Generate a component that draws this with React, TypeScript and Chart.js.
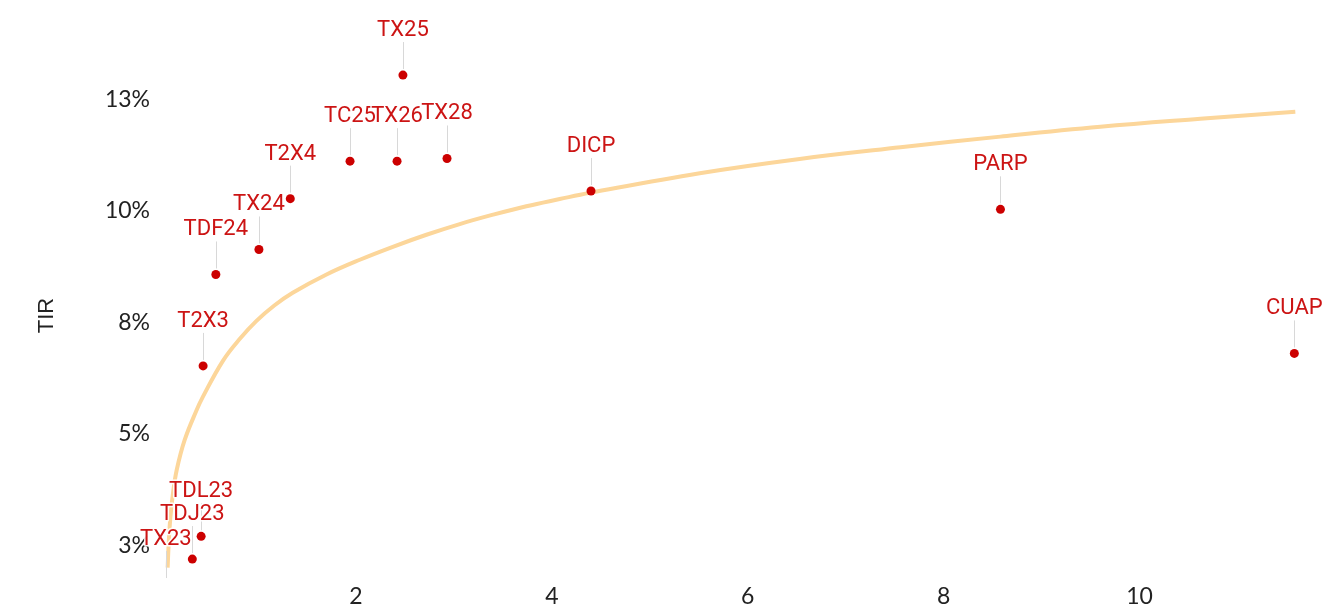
import React, { useEffect, useRef } from "react";
import { Chart, registerables } from "chart.js";

Chart.register(...registerables);

// Bond names, duration (x) and TIR (%)
const bondNames = ["TX25", "TC25", "TX26", "TX28", "T2X4", "TX24", "TDF24", "T2X3", "DICP", "PARP", "CUAP", "TDL23", "TDJ23", "TX23"];
const bondDuration = [2.48, 1.94, 2.42, 2.93, 1.33, 1.01, 0.57, 0.44, 4.40, 8.58, 11.58, 0.42, 0.33, 0.06];
const bondTir = [13.04, 11.11, 11.11, 11.17, 10.27, 9.13, 8.57, 6.52, 10.44, 10.03, 6.80, 2.70, 2.19, 1.63];

// Fitted curve, points
const curveX = [0.078, 0.089, 0.105, 0.13, 0.17, 0.252, 0.372, 0.436, 0.644, 0.82, 0.985, 1.17, 1.355, 1.70, 2.04, 2.377, 2.72, 3.06, 3.40, 3.74, 4.08, 4.39, 5.51, 6.53, 7.56, 8.58, 9.60, 10.62, 11.59];
const curveY = [2.00, 2.55, 3.10, 3.62, 4.18, 4.86, 5.52, 5.82, 6.64, 7.14, 7.53, 7.88, 8.16, 8.57, 8.90, 9.19, 9.46, 9.70, 9.91, 10.10, 10.26, 10.40, 10.84, 11.16, 11.42, 11.66, 11.88, 12.06, 12.22];

// Axis ticks
const xTicks = [2, 4, 6, 8, 10];
const yTicks = [2.5, 5, 7.5, 10, 12.5];

const LABEL_COLOR = "#cc1414";

const pointLabelPlugin = {
  id: "pointLabelPlugin",
  afterDatasetsDraw(chart: any) {
    const meta = chart.getDatasetMeta(0);
    const ctx = chart.ctx;
    ctx.save();
    meta.data.forEach((el: any, i: number) => {
      const { x, y } = el.getProps(["x", "y"], true);
      const base = y - 39;
      const lx = Math.round(x) + 0.5;
      ctx.strokeStyle = "#d8d8d8";
      ctx.lineWidth = 1;
      ctx.beginPath();
      ctx.moveTo(lx, base + 6);
      ctx.lineTo(lx, y - 6);
      ctx.stroke();
      ctx.font = "22px Roboto, 'Liberation Sans', sans-serif";
      ctx.textAlign = "center";
      ctx.textBaseline = "alphabetic";
      ctx.lineWidth = 3;
      ctx.lineJoin = "round";
      ctx.strokeStyle = "rgba(255,255,255,0.9)";
      ctx.strokeText(bondNames[i], x, base);
      ctx.fillStyle = LABEL_COLOR;
      ctx.fillText(bondNames[i], x, base);
    });
    ctx.restore();
  },
};

export default function App() {
  const canvasRef = useRef<HTMLCanvasElement | null>(null);

  useEffect(() => {
    if (!canvasRef.current) return;
    const chart = new Chart(canvasRef.current, {
      type: "scatter",
      data: {
        datasets: [
          {
            label: "Bonos",
            data: bondDuration.map((d, i) => ({ x: d, y: bondTir[i] })),
            backgroundColor: "#cc0000",
            borderWidth: 0,
            pointRadius: 4.5,
            pointHoverRadius: 4.5,
            clip: 0,
            order: 0,
          },
          {
            label: "Curva",
            type: "line",
            data: curveX.map((d, i) => ({ x: d, y: curveY[i] })),
            borderColor: "#fcd69a",
            borderWidth: 4,
            pointRadius: 0,
            fill: false,
            showLine: true,
            tension: 0.4,
            clip: 0,
            order: 1,
          } as any,
        ],
      },
      options: {
        responsive: false,
        animation: false,
        events: [],
        layout: { padding: { top: 59, right: 16, left: 0, bottom: 0 } },
        plugins: {
          legend: { display: false },
          tooltip: { enabled: false },
        },
        scales: {
          x: {
            type: "linear",
            min: 0,
            max: 11.74,
            grid: { display: false, drawTicks: false },
            border: { display: false },
            ticks: {
              color: "#222",
              font: { family: "Lato, 'Liberation Sans', sans-serif", size: 23 },
              padding: 11,
            },
            afterBuildTicks: (scale: any) => {
              scale.ticks = xTicks.map((v) => ({ value: v }));
            },
            afterFit: (scale: any) => {
              scale.height = 33;
            },
          },
          y: {
            type: "linear",
            min: 1.9,
            max: 13.4,
            grid: { display: false, drawTicks: false },
            border: { display: false },
            ticks: {
              color: "#222",
              font: { family: "Lato, 'Liberation Sans', sans-serif", size: 23 },
              padding: 10,
              callback: (v: any) => Math.round(Number(v)) + "%",
            },
            title: {
              display: true,
              text: "TIR",
              color: "#222",
              font: { family: "'Liberation Sans', Arial, sans-serif", size: 22 },
              padding: { top: 34, bottom: 0 },
            },
            afterBuildTicks: (scale: any) => {
              scale.ticks = yTicks.map((v) => ({ value: v }));
            },
            afterFit: (scale: any) => {
              scale.width = 160;
            },
          },
        },
      },
      plugins: [pointLabelPlugin],
    });
    return () => chart.destroy();
  }, []);

  return (
    <div style={{ position: "fixed", left: 0, top: 0, width: 1326, height: 605, background: "#fff" }}>
      <canvas ref={canvasRef} width={1326} height={605} style={{ width: 1326, height: 605, display: "block" }} />
    </div>
  );
}
